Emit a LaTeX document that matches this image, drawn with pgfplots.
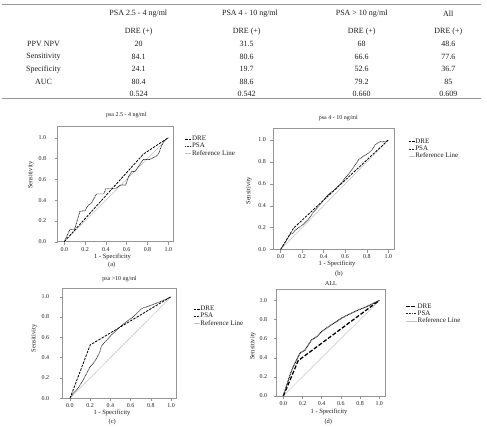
\documentclass[border=0pt]{standalone}
\usepackage{pgfplots}
\pgfplotsset{compat=1.18}
\usepackage{fontspec}
\setmainfont{Liberation Serif}
\definecolor{frame}{RGB}{150,150,150}
\definecolor{refc}{RGB}{195,195,195}
\definecolor{txt}{RGB}{30,30,30}
\pgfplotsset{
  roc/.style={
    scale only axis, anchor=south west,
    axis line style={draw=frame, line width=0.5bp},
    tick style={draw=frame, line width=0.4bp},
    tick align=outside, major tick length=3bp,
    xtick pos=left, ytick pos=left,
    xtick={0,0.2,0.4,0.6,0.8,1}, ytick={0,0.2,0.4,0.6,0.8,1},
    ticklabel style={font=\fontsize{6}{6}\selectfont, text=txt},
    xticklabel style={yshift=1bp},
    /pgf/number format/fixed, /pgf/number format/fixed zerofill,
    /pgf/number format/precision=1, /pgf/number format/assume math mode=true,
    legend cell align=left,
    legend style={draw=none, fill=none, inner sep=0pt, outer sep=0pt, anchor=north west,
      font=\fontsize{7}{7}\selectfont, row sep=0pt, text=txt,
      nodes={inner sep=0.3bp, text height=4.9bp, text depth=1.8bp}},
    legend image code/.code={\draw[##1] (0bp,0bp) -- (6bp,0bp);},
    /tikz/every even column/.append style={column sep=0.8bp},
  },
  dre/.style={black, line width=0.8bp, dash pattern=on 2.5bp off 1.2bp},
  psa/.style={black!85, line width=0.7bp, dash pattern=on 0.9bp off 0.6bp},
  refl/.style={refc, line width=0.5bp},
  longimg/.style={legend image code/.code={\draw[##1] (0bp,0bp) -- (11bp,0bp);}},
}
\tikzset{tab/.style={font=\fontsize{8}{8}\selectfont, text=txt, inner sep=0pt},
  lab/.style={font=\fontsize{6.5}{6.5}\selectfont, text=txt, inner sep=0pt},
  ttl/.style={font=\fontsize{6}{6}\selectfont, text=txt, inner sep=0pt}}
\begin{document}
\begin{tikzpicture}
\useasboundingbox (0,0) rectangle (487bp,-429bp);
\fill[white] (0,0) rectangle (487bp,-429bp);
% ---------- table ----------
\draw[frame, line width=0.9bp] (2bp,-4bp) -- (481bp,-4bp);
\draw[frame, line width=1.3bp] (2bp,-98.7bp) -- (481bp,-98.7bp);
\node[tab] at (138.3bp,-14bp) {PSA 2.5 - 4 ng/ml};
\node[tab] at (250bp,-14bp) {PSA 4 - 10 ng/ml};
\node[tab] at (361.7bp,-14bp) {PSA > 10 ng/ml};
\node[tab] at (448.3bp,-14bp) {All};
\foreach \x in {138.7,246.7,361.7,448.3} {\node[tab] at (\x bp,-32bp) {DRE (+)};}
\node[tab] at (43.5bp,-44bp) {PPV NPV};
\node[tab] at (43.5bp,-56.7bp) {Sensitivity};
\node[tab] at (43.5bp,-69.3bp) {Specificity};
\node[tab] at (43.5bp,-81.7bp) {AUC};
\node[tab] at (138.7bp,-44bp) {20};
\node[tab] at (138.7bp,-56.7bp) {84.1};
\node[tab] at (138.7bp,-69.3bp) {24.1};
\node[tab] at (138.7bp,-81.7bp) {80.4};
\node[tab] at (138.7bp,-94bp) {0.524};
\node[tab] at (246.7bp,-44bp) {31.5};
\node[tab] at (246.7bp,-56.7bp) {80.6};
\node[tab] at (246.7bp,-69.3bp) {19.7};
\node[tab] at (246.7bp,-81.7bp) {88.6};
\node[tab] at (246.7bp,-94bp) {0.542};
\node[tab] at (361.7bp,-44bp) {68};
\node[tab] at (361.7bp,-56.7bp) {66.6};
\node[tab] at (361.7bp,-69.3bp) {52.6};
\node[tab] at (361.7bp,-81.7bp) {79.2};
\node[tab] at (361.7bp,-94bp) {0.660};
\node[tab] at (448.3bp,-44bp) {48.6};
\node[tab] at (448.3bp,-56.7bp) {77.6};
\node[tab] at (448.3bp,-69.3bp) {36.7};
\node[tab] at (448.3bp,-81.7bp) {85};
\node[tab] at (448.3bp,-94bp) {0.609};
% ---------- (a) ----------
\begin{axis}[roc, at={(57.7bp,-241.7bp)}, width=115.6bp, height=115bp,
  xmin=-0.063, xmax=1.048, ymin=0, ymax=1.106, yticklabel style={xshift=-5bp},
  legend style={at={(1.101,0.925)}}]
\addplot[refl, forget plot] coordinates {(0,0) (1,1)};
\addplot[dre] coordinates {(0,0) (0.759,0.841) (1,1)};
\addplot[psa] coordinates {(0,0) (0.02,0.04) (0.055,0.12) (0.10,0.12) (0.15,0.29) (0.2,0.30) (0.23,0.35) (0.26,0.37) (0.31,0.46) (0.38,0.46) (0.40,0.51) (0.49,0.51) (0.54,0.545) (0.59,0.545) (0.62,0.63) (0.65,0.675) (0.68,0.675) (0.71,0.72) (0.76,0.79) (0.82,0.79) (0.88,0.82) (0.91,0.85) (0.925,0.90) (0.96,0.97) (1,1)};
\addlegendimage{refl}
\legend{DRE,PSA,Reference Line}
\end{axis}
\node[ttl] at (126.3bp,-115.3bp) {psa 2.5 - 4 ng/ml};
\node[lab] at (112.5bp,-256.7bp) {1 - Specificity};
\node[lab] at (111.7bp,-265bp) {(a)};
\node[lab, rotate=90] at (31bp,-175bp) {Sensitivity};
% ---------- (b) ----------
\begin{axis}[roc, at={(273.3bp,-249.5bp)}, width=120.7bp, height=121.5bp,
  xmin=-0.068, xmax=1.053, ymin=0, ymax=1.11, yticklabel style={xshift=-1bp},
  legend style={at={(1.118,0.918)}}]
\addplot[refl, forget plot] coordinates {(0,0) (1,1)};
\addplot[dre] coordinates {(0,0) (0.12,0.195) (1,1)};
\addplot[psa] coordinates {(0,0) (0.04,0.06) (0.087,0.137) (0.118,0.152) (0.133,0.174) (0.21,0.23) (0.257,0.274) (0.30,0.335) (0.365,0.41) (0.44,0.50) (0.505,0.55) (0.567,0.61) (0.6,0.655) (0.628,0.686) (0.675,0.747) (0.726,0.822) (0.77,0.853) (0.817,0.88) (0.85,0.91) (0.88,0.96) (0.924,0.985) (0.97,0.985) (1,1)};
\addlegendimage{refl}
\legend{DRE,PSA,Reference Line}
\end{axis}
\node[ttl] at (338.3bp,-118.3bp) {psa 4 - 10 ng/ml};
\node[lab] at (337bp,-264bp) {1 - Specificity};
\node[lab] at (339bp,-274bp) {(b)};
\node[lab, rotate=90] at (249bp,-190.7bp) {Sensitivity};
% ---------- (c) ----------
\begin{axis}[roc, at={(62.7bp,-398.3bp)}, width=114bp, height=110bp,
  xmin=-0.072, xmax=1.056, ymin=0, ymax=1.083, yticklabel style={xshift=-7bp},
  legend style={at={(1.146,0.845)}}]
\addplot[refl, forget plot] coordinates {(0,0) (1,1)};
\addplot[dre] coordinates {(0,0) (0.2,0.525) (1,1)};
\addplot[psa] coordinates {(0,0) (0.033,0.05) (0.066,0.082) (0.1,0.13) (0.13,0.18) (0.165,0.246) (0.198,0.31) (0.23,0.344) (0.264,0.393) (0.297,0.46) (0.31,0.51) (0.347,0.557) (0.38,0.59) (0.41,0.623) (0.446,0.656) (0.495,0.705) (0.56,0.754) (0.627,0.803) (0.677,0.852) (0.71,0.885) (0.76,0.90) (0.825,0.925) (0.89,0.95) (0.957,0.977) (1,1)};
\addlegendimage{refl}
\legend{DRE,PSA,Reference Line}
\end{axis}
\node[ttl] at (119.5bp,-279bp) {psa >10 ng/ml};
\node[lab] at (112bp,-412.5bp) {1 - Specificity};
\node[lab] at (112.3bp,-421.5bp) {(c)};
\node[lab, rotate=90] at (34.3bp,-338.3bp) {Sensitivity};
% ---------- (d) ----------
\begin{axis}[roc, longimg, at={(276.7bp,-396bp)}, width=108.3bp, height=107bp,
  xmin=-0.069, xmax=1.06, ymin=0, ymax=1.12, yticklabel style={xshift=-3bp},
  legend style={at={(1.185,0.87)}}]
\addplot[refl, forget plot] coordinates {(0,0) (1,1)};
\addplot[black, line width=1.3bp, dash pattern=on 4bp off 1.8bp] coordinates {(0,0) (0.155,0.37) (1,1)};
\addplot[black!85, line width=1.1bp, dash pattern=on 1bp off 0.6bp] coordinates {(0,0) (0.035,0.115) (0.07,0.22) (0.104,0.31) (0.14,0.38) (0.174,0.45) (0.226,0.48) (0.26,0.535) (0.295,0.587) (0.347,0.62) (0.4,0.675) (0.45,0.71) (0.5,0.745) (0.555,0.78) (0.607,0.815) (0.66,0.843) (0.71,0.867) (0.78,0.9) (0.85,0.927) (0.92,0.96) (1,1)};
\addlegendimage{refl}
\legend{DRE,PSA,Reference Line}
\end{axis}
\node[ttl] at (331bp,-283.3bp) {ALL};
\node[lab] at (329bp,-411.5bp) {1 - Specificity};
\node[lab] at (328.3bp,-421.7bp) {(d)};
\node[lab, rotate=90] at (253bp,-345.8bp) {Sensitivity};
\end{tikzpicture}
\end{document}
